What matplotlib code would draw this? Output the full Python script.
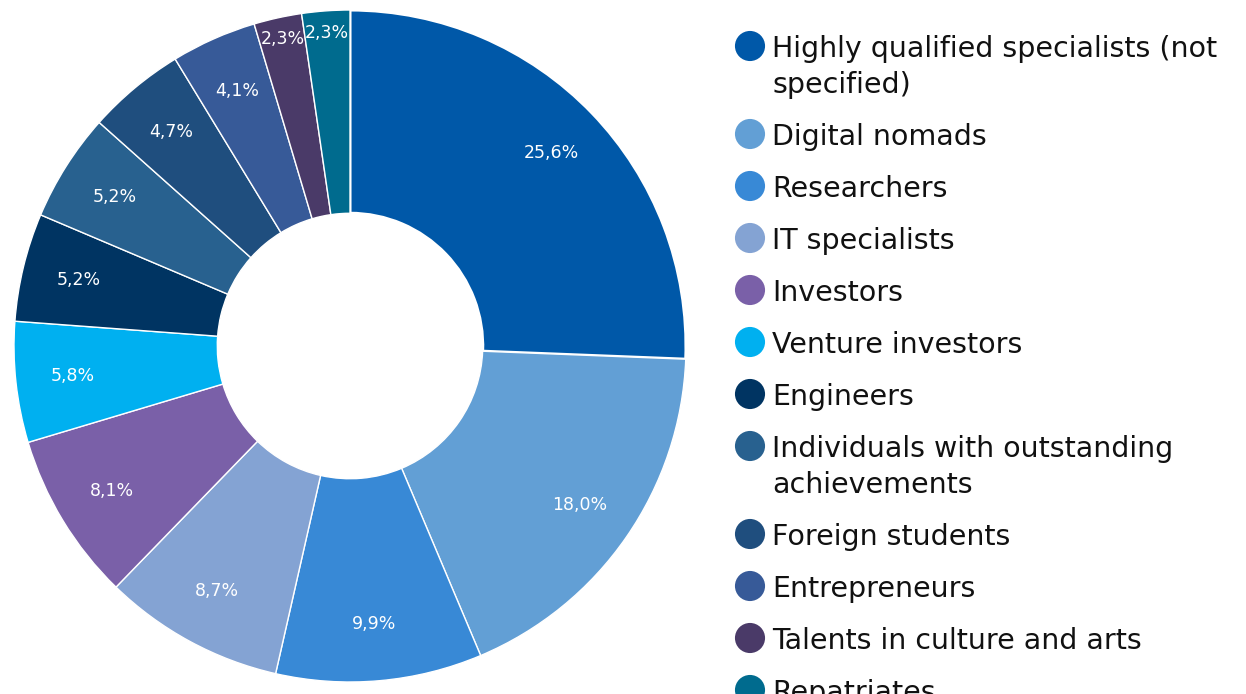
import numpy as np
import matplotlib
matplotlib.use('Agg')
from matplotlib import pyplot as plt

categories = ["Highly qualified specialists (not\nspecified)", "Digital nomads", "Researchers",
              "IT specialists", "Investors", "Venture investors", "Engineers",
              "Individuals with outstanding\nachievements", "Foreign students", "Entrepreneurs",
              "Talents in culture and arts", "Repatriates"]
shares = [25.6, 18.0, 9.9, 8.7, 8.1, 5.8, 5.2, 5.2, 4.7, 4.1, 2.3, 2.3]
colors = ["#0058A8", "#629FD5", "#3889D6", "#84A3D3", "#7A60A8", "#00B0F0",
          "#003462", "#28618F", "#1F4E7E", "#375A98", "#4A3A68", "#006B8E"]

W, H = 1246, 694
fig = plt.figure(figsize=(W/100, H/100), dpi=100)

# donut, centre at (350, 346) px, radius 336 px
cx, cy, R = 350, 346, 336
ax = fig.add_axes([(cx-R)/W, (H-cy-R)/H, 2*R/W, 2*R/H])
wedges, _ = ax.pie(shares, colors=colors, startangle=90, counterclock=False,
                   radius=1.0, wedgeprops=dict(width=0.605, edgecolor='white', linewidth=1.0))
wedges[0].set_linewidth(2.2)
ax.set_xlim(-1, 1)
ax.set_ylim(-1, 1)
ax.set_aspect('equal')

for w, v in zip(wedges, shares):
    ang = np.deg2rad((w.theta1 + w.theta2) / 2)
    r = 0.935 if v < 3 else 0.83
    ax.text(r*np.cos(ang), r*np.sin(ang), f"{v:.1f}%".replace('.', ','),
            ha='center', va='center', color='white', fontsize=12.5)

# legend drawn by hand so the marker sits on the first line
lax = fig.add_axes([0, 0, 1, 1])
lax.set_xlim(0, W)
lax.set_ylim(H, 0)
lax.axis('off')
y = 46
for lab, c in zip(categories, colors):
    lax.scatter([750], [y], s=470, color=c, edgecolors='none')
    for i, line in enumerate(lab.split('\n')):
        lax.text(772, y + 11 + 36*i, line, fontsize=20.5, va='baseline', ha='left',
                 color='#111111')
    y += 52 + 36 * lab.count('\n')

fig.savefig('out.png', dpi=100)
